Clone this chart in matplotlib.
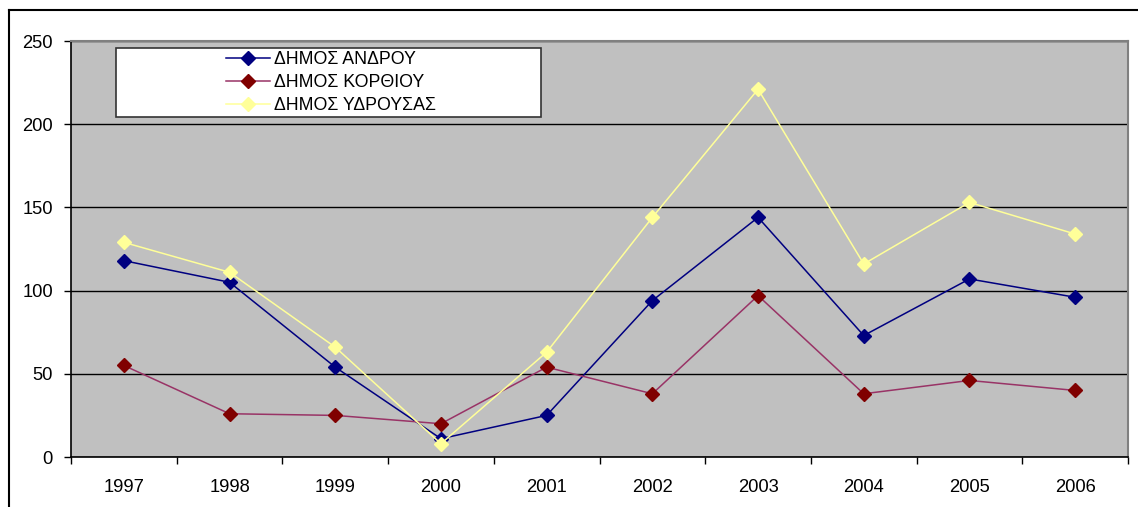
import matplotlib
matplotlib.use("Agg")
import matplotlib.pyplot as plt
import matplotlib.patches as patches

plt.rcParams['font.family'] = ['Liberation Sans', 'DejaVu Sans']

# Data
years = ['1997', '1998', '1999', '2000', '2001', '2002', '2003', '2004', '2005', '2006']
andros = [118, 105, 54, 11, 25, 94, 144, 73, 107, 96]
korthi = [55, 26, 25, 20, 54, 38, 97, 38, 46, 40]
ydrousa = [129, 111, 66, 8, 63, 144, 221, 116, 153, 134]
series_names = ['ΔΗΜΟΣ ΑΝΔΡΟΥ', 'ΔΗΜΟΣ ΚΟΡΘΙΟΥ', 'ΔΗΜΟΣ ΥΔΡΟΥΣΑΣ']
y_ticks = [0, 50, 100, 150, 200, 250]

W, H = 1138, 507
fig = plt.figure(figsize=(W / 100, H / 100), dpi=100)
fig.patch.set_facecolor('white')

# outer chart frame (only top and left visible in the crop)
fig.add_artist(plt.Line2D([9 / W, 9 / W], [0, 1 - 10 / H], color='black', lw=1.5, transform=fig.transFigure))
fig.add_artist(plt.Line2D([9 / W, 1], [1 - 10 / H, 1 - 10 / H], color='black', lw=1.5, transform=fig.transFigure))

ax = fig.add_axes([71 / W, 1 - 457 / H, (1128 - 71) / W, (457 - 41) / H])
ax.set_facecolor('#c0c0c0')

x = list(range(len(years)))
ax.plot(x, andros, color='#000080', lw=1.1, marker='D', ms=7, mfc='#000080', mec='#000080', label=series_names[0], zorder=3)
ax.plot(x, korthi, color='#993366', lw=1.1, marker='D', ms=7, mfc='#800000', mec='#800000', label=series_names[1], zorder=3)
ax.plot(x, ydrousa, color='#ffff99', lw=1.1, marker='D', ms=7, mfc='#ffff99', mec='#ffff99', label=series_names[2], zorder=3)

ax.set_xlim(-0.5, len(years) - 0.5)
ax.set_ylim(0, 250)
ax.set_yticks(y_ticks)
ax.set_yticklabels([str(v) for v in y_ticks])
ax.yaxis.grid(True, color='black', lw=1.0)
ax.set_axisbelow(True)

ax.set_xticks([i - 0.5 for i in range(len(years) + 1)])
ax.set_xticklabels([])
ax.set_xticks(x, minor=True)
ax.set_xticklabels(years, minor=True)
ax.tick_params(axis='x', which='major', direction='out', length=5, width=1, color='black')
ax.tick_params(axis='x', which='minor', length=0, pad=16, labelsize=13.2)
ax.tick_params(axis='y', direction='out', length=5, width=1, color='black', pad=8, labelsize=13.2)

for side in ['left', 'bottom']:
    ax.spines[side].set_color('black')
    ax.spines[side].set_linewidth(1.2)
for side in ['top', 'right']:
    ax.spines[side].set_color('#808080')
    ax.spines[side].set_linewidth(1.5)

# legend box drawn in figure pixels, inside the axes so the legend sits on top
box = patches.Rectangle((116 / W, 1 - 117 / H), (541 - 116) / W, (117 - 48) / H,
                        transform=fig.transFigure, facecolor='white', edgecolor='#333333',
                        lw=1.2, zorder=4, clip_on=False)
ax.add_patch(box)
leg = ax.legend(loc='upper left', bbox_to_anchor=(226 / W, 1 - 51 / H), bbox_transform=fig.transFigure,
                frameon=False, fontsize=12.8, handlelength=2.45, handletextpad=0.25,
                labelspacing=0.33, borderpad=0, borderaxespad=0, numpoints=1)
leg.set_zorder(5)

fig.savefig('out.png', dpi=100)
